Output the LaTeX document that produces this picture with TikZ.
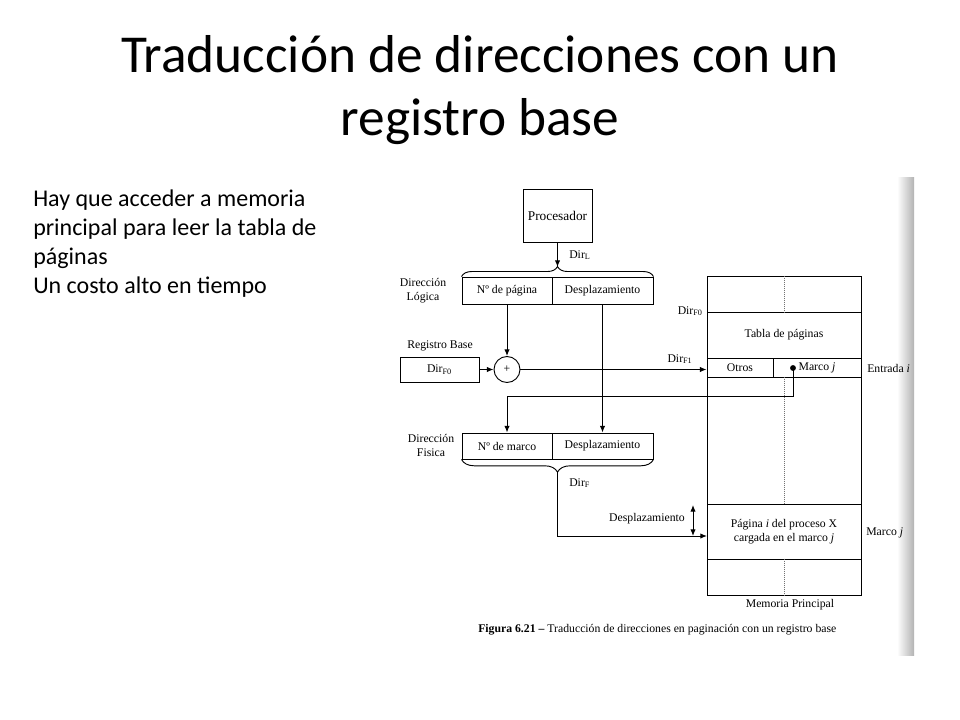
\documentclass[tikz,border=0pt]{standalone}
\usepackage{fontspec}
\setmainfont{Carlito}
\newfontfamily\timesfont{Liberation Serif}
\usetikzlibrary{arrows.meta,decorations.pathreplacing}
\tikzset{
	box/.style={draw, line width=0.7pt, inner sep=0pt, font=\timesfont\fontsize{8.8}{10.5}\selectfont},
	lbl/.style={inner sep=0pt, font=\timesfont\fontsize{8.8}{10.5}\selectfont, align=center},
	flow/.style={-{Latex[length=5pt,width=4pt]}, line width=0.7pt},
	wire/.style={line width=0.7pt},
	guide/.style={densely dotted, line width=0.5pt, color=black!55}
}
\begin{document}
\begin{tikzpicture}[x=0.75pt,y=-0.75pt]
	\useasboundingbox (0,0) rectangle (960,720);

	% titulo y texto
	\node[anchor=base, font=\fontsize{40}{48}\selectfont](titleA) at (480,73){Traducción de direcciones con un};
	\node[anchor=base, font=\fontsize{40}{48}\selectfont](titleB) at (480,136){registro base};
	\node[anchor=north west, align=left, inner sep=0pt, font=\fontsize{18}{21.75}\selectfont](notes) at (33,190){Hay que acceder a memoria\\principal para leer la tabla de\\páginas\\Un costo alto en tiempo};

	% borde del escaneo
	\shade[left color=white, right color=black!30] (897,178) rectangle (914,655);

	% procesador y direccion logica
	\node[box, minimum width=51.75pt, minimum height=39.75pt, font=\timesfont\fontsize{10}{12}\selectfont](proc) at (557.5,215.5){Procesador};
	\coordinate (ltip) at (557.5,267);
	\node[box, minimum width=67.5pt, minimum height=20.25pt](npag) at (507,290.5){Nº de página};
	\node[box, minimum width=75.75pt, minimum height=20.25pt](despl) at (602.5,290.5){Desplazamiento};
	\node[lbl, anchor=west](dirl) at (569,255){Dir\textsubscript{L}};
	\node[lbl](dlog) at (423,291){Dirección\\Lógica};

	% registro base
	\node[lbl](rbase) at (440,346){Registro Base};
	\node[box, minimum width=59.25pt, minimum height=18.75pt](base) at (439.5,369.5){Dir\textsubscript{F0}};
	\node[box, circle, minimum size=19.5pt](sum) at (507,369.5){+};

	% memoria principal
	\node[box, minimum width=115.5pt, minimum height=27pt](mtop) at (784,294){};
	\node[box, minimum width=115.5pt, minimum height=34.5pt](tabla) at (784,335){Tabla de páginas};
	\node[box, minimum width=49.5pt, minimum height=14.25pt](otros) at (740,367.5){Otros};
	\node[box, minimum width=66pt, minimum height=14.25pt](marco) at (817,367.5){Marco \textit{j}};
	\node[box, minimum width=115.5pt, minimum height=95.25pt](mfree) at (784,440.5){};
	\node[box, minimum width=115.5pt, minimum height=41.25pt, align=center](mpag) at (784,531.5){Página \textit{i} del proceso X\\cargada en el marco \textit{j}};
	\node[box, minimum width=115.5pt, minimum height=27pt](mbot) at (784,577){};
	\draw [guide] (mtop.north) -- (mtop.south);
	\draw [guide] (mfree.north) -- (mfree.south);
	\draw [guide] (mbot.north) -- (mbot.south);
	\node[lbl, anchor=east](dirf0) at (703,311){Dir\textsubscript{F0}};
	\node[lbl](dirf1) at (680,359){Dir\textsubscript{F1}};
	\node[lbl, anchor=west](entrada) at (867,368){Entrada \textit{i}};
	\node[lbl, anchor=west](marcoj) at (866,533){Marco \textit{j}};
	\node[lbl](mprin) at (790,605){Memoria Principal};

	% direccion fisica
	\node[box, minimum width=67.5pt, minimum height=19.5pt](nmarco) at (507,446){Nº de marco};
	\node[box, minimum width=75.75pt, minimum height=19.5pt](despf) at (602.5,446){Desplazamiento};
	\coordinate (ftip) at (557.5,472);
	\node[lbl](dfis) at (431,445){Dirección\\Fisica};
	\node[lbl, anchor=west](dirf) at (569,483){Dir\textsubscript{F}};
	\node[lbl](dlab) at (647,519){Desplazamiento};
	\coordinate (mdot) at (793,368);
	\coordinate (mturn) at (507,396);
	\coordinate (dtarget) at (707,536);
	\coordinate (dtop) at (693,505);
	\coordinate (dbot) at (693,536);

	% conexiones
	\draw [wire, decorate, decoration={brace, amplitude=7.5pt}] (npag.north west) -- (despl.north east);
	\draw [wire, decorate, decoration={brace, amplitude=9.5pt}] (despf.south east) -- (nmarco.south west);
	\draw [flow] (proc.south) -- (ltip);
	\draw [flow] (npag.south) -- (sum.north);
	\draw [flow] (despl.south) -- (despf.north);
	\draw [flow] (base.east) -- (sum.west);
	\draw [flow] (sum.east) -- (sum.east -| otros.west);
	\fill (mdot) circle (2.2pt);
	\draw [flow] (mdot) |- (mturn) -- (nmarco.north);
	\draw [flow] (ftip) |- (dtarget);
	\draw [flow, {Latex[length=5pt,width=4pt]}-{Latex[length=5pt,width=4pt]}] (dtop) -- (dbot);

	\node[lbl, anchor=west](caption) at (478,630){\textbf{Figura 6.21 –} Traducción de direcciones en paginación con un registro base};
\end{tikzpicture}
\end{document}
